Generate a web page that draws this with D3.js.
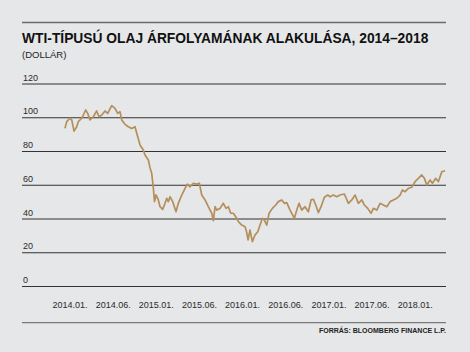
<!doctype html>
<html lang="hu">
<head>
<meta charset="utf-8">
<script src="https://d3js.org/d3.v7.min.js"></script>
<style>
    html, body {
        margin: 0;
        padding: 0;
        background: #e6e7e8;
    }
    svg {
        display: block;
        font-family: "Liberation Sans", Arial, sans-serif;
    }
</style>
</head>
<body>
<svg id="chart" width="470" height="352"></svg>
<script>
    // months counted from 2014.01.
    var months = [
        -0.63, -0.39, 0.07, 0.31, 0.63, 1.00, 1.22, 1.70, 2.25, 2.53,
        2.85, 3.31, 3.78, 4.10, 4.48, 4.94, 5.31, 5.87, 6.33, 6.70,
        7.02, 7.26, 7.72, 8.18, 8.65, 9.11, 9.35, 9.81, 10.26, 10.50,
        10.96, 11.20, 11.43, 11.66, 11.82, 12.03, 12.35, 12.59, 12.96, 13.28,
        13.52, 13.74, 13.98, 14.35, 14.81, 15.13, 15.61, 16.07, 16.38, 16.76,
        17.22, 17.69, 18.05, 18.39, 18.85, 19.30, 19.78, 20.00, 20.24, 20.47,
        20.93, 21.39, 21.77, 22.09, 22.42, 22.78, 23.25, 23.48, 23.95, 24.41,
        24.62, 24.83, 25.10, 25.42, 25.80, 26.18, 26.50, 26.82, 27.09, 27.43,
        27.75, 28.21, 28.68, 29.04, 29.51, 29.87, 30.21, 30.67, 31.27, 31.60,
        31.92, 32.30, 32.75, 33.21, 33.59, 33.91, 34.24, 34.60, 34.98, 35.44,
        35.91, 36.23, 36.69, 37.16, 37.62, 38.22, 38.78, 39.25, 39.71, 40.17,
        40.64, 41.00, 41.47, 41.93, 42.25, 42.73, 43.18, 43.64, 44.12, 44.58,
        45.04, 45.51, 45.97, 46.29, 46.66, 47.12, 47.59, 48.05, 48.51, 48.98,
        49.35, 49.68, 50.14, 50.46, 50.93, 51.29, 51.77, 52.23
    ];
    var prices = [
        93.4, 97.4, 99.4, 98.4, 91.8, 94.4, 97.4, 99.4, 104.3, 102.3,
        98.4, 100.3, 103.7, 100.3, 101.3, 103.7, 102.3, 106.9, 105.3, 102.3,
        103.3, 98.4, 95.8, 94.4, 93.4, 94.4, 90.5, 83.6, 80.6, 77.6,
        74.7, 70.0, 66.8, 58.0, 50.0, 54.0, 51.0, 47.0, 45.4, 49.0,
        52.0, 50.0, 52.9, 50.0, 44.0, 49.0, 53.9, 57.9, 60.4, 58.8,
        60.9, 60.4, 60.9, 53.9, 51.0, 47.0, 43.1, 38.7, 47.0, 45.0,
        46.0, 49.0, 46.0, 47.0, 43.1, 43.1, 40.1, 38.1, 36.1, 35.1,
        32.2, 27.3, 33.2, 26.3, 30.2, 32.2, 36.1, 40.1, 39.1, 36.1,
        43.1, 46.0, 48.0, 50.0, 51.0, 49.0, 49.4, 45.0, 40.1, 45.0,
        49.0, 45.0, 47.0, 44.0, 51.0, 51.4, 48.0, 43.5, 47.0, 52.6,
        53.9, 52.9, 53.9, 52.9, 53.9, 54.5, 49.0, 51.0, 53.9, 49.0,
        51.0, 48.0, 46.0, 43.1, 46.0, 45.0, 49.0, 48.0, 47.0, 50.0,
        51.0, 52.0, 53.9, 56.9, 55.9, 57.9, 58.5, 61.8, 63.8, 65.8,
        63.8, 59.9, 62.8, 60.9, 63.8, 61.8, 67.7, 68.3
    ];
    var yTicks = [0, 20, 40, 60, 80, 100, 120];
    var xTicks = [0, 6, 12, 18, 24, 30, 36, 42, 48];
    var xLabels = ["2014.01.", "2014.06.", "2015.01.", "2015.06.", "2016.01.",
                   "2016.06.", "2017.01.", "2017.06.", "2018.01."];

    var svg = d3.select("#chart");
    var left = 22, right = 446;

    var x = d3.scaleLinear().domain([0, 48]).range([69.5, 414.7]);
    var y = d3.scaleLinear().domain([0, 120]).range([286, 83.5]);

    // top rule
    svg.append("line")
        .attr("x1", left).attr("x2", right)
        .attr("y1", 22.5).attr("y2", 22.5)
        .attr("stroke", "#6b6b6b").attr("stroke-width", 1.6);

    svg.append("text")
        .attr("x", left).attr("y", 43.3)
        .attr("font-size", 13.8).attr("font-weight", "bold")
        .attr("fill", "#111")
        .text("WTI-TÍPUSÚ OLAJ ÁRFOLYAMÁNAK ALAKULÁSA, 2014–2018");

    svg.append("text")
        .attr("x", left).attr("y", 58.3)
        .attr("font-size", 9.5).attr("fill", "#222")
        .text("(DOLLÁR)");

    // horizontal grid + y labels
    var yAxis = d3.axisRight(y).tickValues(yTicks)
        .tickSize(right - left).tickFormat(d3.format("d"));
    var gy = svg.append("g").attr("transform", "translate(" + left + ",0)").call(yAxis);
    gy.select(".domain").remove();
    gy.selectAll(".tick line").attr("stroke", "#333").attr("stroke-width", 1.2);
    gy.selectAll(".tick text")
        .attr("x", 1).attr("dy", -3.5)
        .attr("text-anchor", "start")
        .attr("font-size", 9).attr("font-family", "Liberation Sans, Arial, sans-serif")
        .attr("fill", "#2a2a2a");

    // x labels
    var xAxis = d3.axisBottom(x).tickValues(xTicks).tickSize(0)
        .tickFormat(function (d, i) { return xLabels[i]; });
    var gx = svg.append("g").attr("transform", "translate(0,299)").call(xAxis);
    gx.select(".domain").remove();
    gx.selectAll(".tick text")
        .attr("font-size", 9).attr("font-family", "Liberation Sans, Arial, sans-serif")
        .attr("fill", "#2a2a2a");

    // bottom rule
    svg.append("line")
        .attr("x1", left).attr("x2", right)
        .attr("y1", 322.7).attr("y2", 322.7)
        .attr("stroke", "#7a7a7a").attr("stroke-width", 1.2);

    svg.append("text")
        .attr("x", right).attr("y", 333.3)
        .attr("text-anchor", "end")
        .attr("font-size", 7).attr("font-weight", "bold")
        .attr("fill", "#222")
        .text("FORRÁS: BLOOMBERG FINANCE L.P.");

    var line = d3.line()
        .x(function (d, i) { return x(months[i]); })
        .y(function (d) { return y(d); });

    svg.append("path")
        .datum(prices)
        .attr("d", line)
        .attr("fill", "none")
        .attr("stroke", "#b48f5c")
        .attr("stroke-width", 1.7)
        .attr("stroke-linejoin", "round");
</script>
</body>
</html>
